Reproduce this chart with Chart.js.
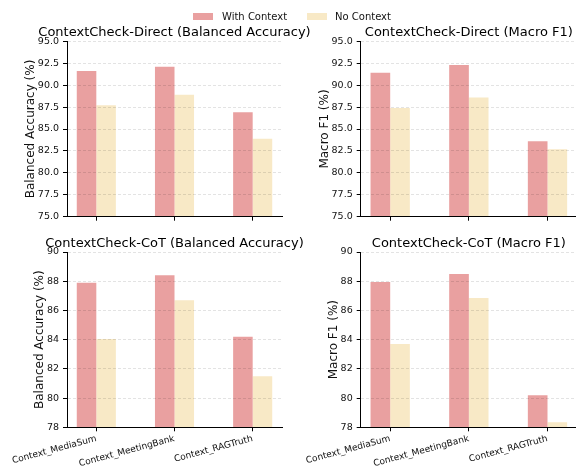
<!DOCTYPE html>
<html>
<head>
<meta charset="utf-8">
<script src="https://cdn.jsdelivr.net/npm/chart.js@4.4.1/dist/chart.umd.min.js"></script>
<style>
  html, body { margin: 0; padding: 0; background: #fff; overflow: hidden; width: 576px; height: 466px; }
  #fig { position: relative; width: 576px; height: 466px; font-family: "DejaVu Sans", sans-serif; }
  #fig canvas { position: absolute; }
  .swatch { position: absolute; width: 20px; height: 7px; top: 13px; }
  .lgtext { position: absolute; top: 10px; font-size: 10px; line-height: 13px; color: #111; white-space: nowrap; }
</style>
</head>
<body>
<div id="fig">
  <canvas id="directBal" width="330" height="233" style="left:0;top:0"></canvas>
  <canvas id="directF1" width="290" height="233" style="left:290px;top:0"></canvas>
  <canvas id="cotBal" width="330" height="233" style="left:0;top:233px"></canvas>
  <canvas id="cotF1" width="290" height="233" style="left:290px;top:233px"></canvas>
  <span class="swatch" id="sw0" style="left:193px"></span><span class="lgtext" id="lg0" style="left:222px"></span>
  <span class="swatch" id="sw1" style="left:307px"></span><span class="lgtext" id="lg1" style="left:335px"></span>
</div>
<script>
// Datasets and categories
const categories = ['Context_MediaSum', 'Context_MeetingBank', 'Context_RAGTruth'];
const seriesLabels = ['With Context', 'No Context'];
const seriesColors = ['#E9A0A0', '#F8E9C6'];

const directBalAccWith = [91.6, 92.1, 86.9];
const directBalAccNo   = [87.7, 88.9, 83.9];
const directF1With     = [91.4, 92.3, 83.6];
const directF1No       = [87.4, 88.6, 82.7];
const cotBalAccWith    = [87.9, 88.4, 84.2];
const cotBalAccNo      = [84.05, 86.7, 81.5];
const cotF1With        = [87.95, 88.5, 80.2];
const cotF1No          = [83.7, 86.85, 78.35];

const directYTicks = [75.0, 77.5, 80.0, 82.5, 85.0, 87.5, 90.0, 92.5, 95.0];
const cotYTicks    = [78, 80, 82, 84, 86, 88, 90];

// Shared legend
seriesLabels.forEach((name, i) => {
  document.getElementById('sw' + i).style.background = seriesColors[i];
  document.getElementById('lg' + i).textContent = name;
});

Chart.defaults.font.family = '"DejaVu Sans", sans-serif';
Chart.defaults.color = '#111';

// Panel title centred over the plotting area
const panelTitlePlugin = {
  id: 'panelTitle',
  afterDraw(chart, args, opts) {
    const { ctx, chartArea } = chart;
    ctx.save();
    ctx.font = '13px "DejaVu Sans", sans-serif';
    ctx.fillStyle = '#000';
    ctx.textAlign = 'center';
    ctx.textBaseline = 'alphabetic';
    ctx.fillText(opts.text, (chartArea.left + chartArea.right) / 2, opts.baseline);
    ctx.restore();
  }
};

function drawPanel(cfg) {
  const canvas = document.getElementById(cfg.id);
  const W = canvas.width, H = canvas.height;
  const a = cfg.area;
  const yt = cfg.yTicks;
  const toPoints = vals => vals.map((v, i) => ({ x: i, y: v }));

  new Chart(canvas, {
    type: 'bar',
    data: {
      datasets: [
        { label: seriesLabels[0], data: toPoints(cfg.withVals), backgroundColor: seriesColors[0] },
        { label: seriesLabels[1], data: toPoints(cfg.noVals), backgroundColor: seriesColors[1] }
      ]
    },
    options: {
      responsive: false,
      animation: false,
      devicePixelRatio: 1,
      layout: { padding: { left: 0, top: a.top, right: W - a.right, bottom: 0 } },
      datasets: { bar: { categoryPercentage: 0.5, barPercentage: 1, borderWidth: 0 } },
      plugins: {
        legend: { display: false },
        tooltip: { enabled: false },
        title: { display: false },
        panelTitle: { text: cfg.title, baseline: cfg.titleBaseline }
      },
      scales: {
        x: {
          type: 'linear',
          min: -0.375,
          max: categories.length - 1 + 0.375,
          offset: false,
          afterBuildTicks: s => { s.ticks = categories.map((_, i) => ({ value: i })); },
          afterFit: s => { s.height = H - a.bottom; },
          grid: {
            offset: false, drawOnChartArea: false, drawTicks: true,
            tickLength: 4, tickColor: '#000', tickWidth: 1, color: 'rgba(0,0,0,0)'
          },
          border: { display: true, color: '#000', width: 1, z: 2 },
          ticks: {
            display: cfg.showX, autoSkip: false, maxRotation: 15, minRotation: 15,
            padding: 2, color: '#111', font: { size: 9 },
            callback: v => categories[Math.round(v)]
          }
        },
        y: {
          min: yt[0],
          max: yt[yt.length - 1],
          afterBuildTicks: s => { s.ticks = yt.map(v => ({ value: v })); },
          afterFit: s => { s.width = a.left; },
          grid: {
            color: 'rgba(0,0,0,0.14)', lineWidth: 0.8, drawTicks: true,
            tickLength: 4, tickColor: '#000', tickWidth: 1, tickBorderDash: [], z: 1
          },
          border: { display: true, color: '#000', width: 1, dash: [3, 2], z: 2 },
          ticks: {
            padding: 4, color: '#111', font: { size: 9.5 },
            callback: v => v.toFixed(cfg.decimals)
          },
          title: {
            display: true, text: cfg.yTitle, color: '#111', font: { size: 12 },
            padding: { top: cfg.yTitleCenter - 7.2, bottom: 0 }
          }
        }
      }
    },
    plugins: [panelTitlePlugin]
  });
}

drawPanel({
  id: 'directBal', title: 'ContextCheck-Direct (Balanced Accuracy)', yTitle: 'Balanced Accuracy (%)',
  withVals: directBalAccWith, noVals: directBalAccNo, yTicks: directYTicks, decimals: 1,
  area: { left: 67, top: 41.3, right: 282, bottom: 216.7 }, titleBaseline: 35.7, yTitleCenter: 30.7, showX: false
});
drawPanel({
  id: 'directF1', title: 'ContextCheck-Direct (Macro F1)', yTitle: 'Macro F1 (%)',
  withVals: directF1With, noVals: directF1No, yTicks: directYTicks, decimals: 1,
  area: { left: 70.7, top: 41.3, right: 287, bottom: 216.7 }, titleBaseline: 35.7, yTitleCenter: 35, showX: false
});
drawPanel({
  id: 'cotBal', title: 'ContextCheck-CoT (Balanced Accuracy)', yTitle: 'Balanced Accuracy (%)',
  withVals: cotBalAccWith, noVals: cotBalAccNo, yTicks: cotYTicks, decimals: 0,
  area: { left: 67, top: 19, right: 282, bottom: 194.3 }, titleBaseline: 13.5, yTitleCenter: 39.5, showX: true
});
drawPanel({
  id: 'cotF1', title: 'ContextCheck-CoT (Macro F1)', yTitle: 'Macro F1 (%)',
  withVals: cotF1With, noVals: cotF1No, yTicks: cotYTicks, decimals: 0,
  area: { left: 70.7, top: 19, right: 287, bottom: 194.3 }, titleBaseline: 13.5, yTitleCenter: 44, showX: true
});
</script>
</body>
</html>
